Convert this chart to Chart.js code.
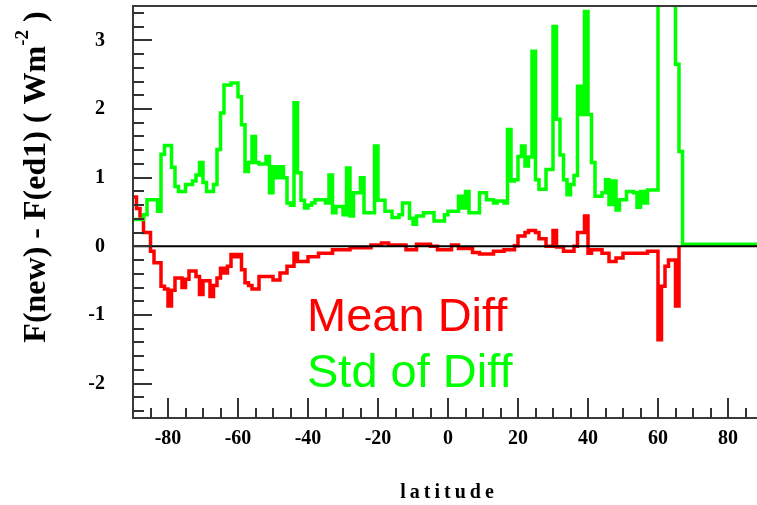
<!DOCTYPE html>
<html><head><meta charset="utf-8">
<script src="https://cdn.jsdelivr.net/npm/chart.js@4.4.1/dist/chart.umd.min.js"></script>
<style>html,body{margin:0;padding:0;overflow:hidden;background:#fff;width:757px;height:505px}canvas{display:block}</style>
</head><body>
<canvas id="c" width="765" height="505"></canvas>
<script>
// Latitude bin starts (1 degree bins), last entry closes the final bin
const latitude = Array.from({length: 181}, (_, i) => i - 90);

// Mean Diff (red)
const meanDiff = [
  0.72, 0.55, 0.44, 0.20, 0.20, -0.07, -0.24, -0.24, -0.58, -0.62,
  -0.87, -0.64, -0.46, -0.46, -0.60, -0.48, -0.36, -0.36, -0.44, -0.70,
  -0.50, -0.50, -0.73, -0.57, -0.46, -0.32, -0.39, -0.29, -0.12, -0.15,
  -0.12, -0.34, -0.53, -0.57, -0.62, -0.62, -0.44, -0.44, -0.44, -0.44,
  -0.49, -0.49, -0.39, -0.39, -0.29, -0.29, -0.10, -0.22, -0.22, -0.22,
  -0.15, -0.15, -0.15, -0.10, -0.10, -0.10, -0.10, -0.05, -0.05, -0.05,
  -0.05, -0.05, -0.02, -0.02, -0.02, -0.02, -0.02, -0.02, 0.02, 0.02,
  0.02, 0.05, 0.05, 0.02, 0.02, 0.02, 0.02, 0.02, -0.05, -0.05,
  -0.05, 0.03, 0.03, 0.03, 0.03, 0.00, 0.00, -0.05, -0.05, -0.05,
  -0.05, 0.02, 0.02, -0.03, -0.03, -0.03, -0.03, -0.09, -0.09, -0.11,
  -0.11, -0.11, -0.11, -0.07, -0.07, -0.07, -0.05, -0.05, -0.05, 0.01,
  0.15, 0.15, 0.20, 0.23, 0.23, 0.20, 0.11, 0.11, 0.00, 0.00,
  0.23, -0.01, -0.01, -0.07, -0.07, -0.07, 0.00, 0.20, 0.20, 0.44,
  -0.10, -0.05, -0.05, -0.05, -0.10, -0.10, -0.22, -0.22, -0.17, -0.17,
  -0.10, -0.10, -0.10, -0.10, -0.10, -0.10, -0.10, -0.07, -0.07, -0.07,
  -1.36, -0.58, -0.29, -0.20, -0.20, -0.87, 0.00, null, null, null,
  null, null, null, null, null, null, null, null, null, null,
  null, null, null, null, null, null, null, null, null, null,
  null
];

// Std of Diff (green)
const stdOfDiff = [
  0.39, 0.39, 0.39, 0.46, 0.68, 0.68, 0.68, 0.51, 1.34, 1.47,
  1.47, 1.15, 0.87, 0.80, 0.80, 0.90, 0.90, 0.95, 1.04, 1.22,
  0.93, 0.80, 0.80, 0.90, 1.41, 1.94, 2.35, 2.35, 2.38, 2.38,
  2.18, 1.77, 1.09, 1.22, 1.60, 1.22, 1.20, 1.20, 1.31, 0.78,
  1.16, 1.00, 1.16, 1.00, 0.63, 0.60, 2.09, 1.07, 0.67, 0.56,
  0.60, 0.63, 0.68, 0.68, 0.68, 0.63, 1.04, 0.49, 0.58, 0.58,
  0.46, 1.14, 0.44, 0.78, 0.78, 1.00, 0.49, 0.49, 0.49, 1.46,
  0.67, 0.67, 0.51, 0.51, 0.42, 0.42, 0.46, 0.63, 0.63, 0.41,
  0.32, 0.44, 0.44, 0.49, 0.49, 0.49, 0.37, 0.37, 0.37, 0.46,
  0.51, 0.51, 0.51, 0.73, 0.56, 0.80, 0.49, 0.49, 0.49, 0.78,
  0.78, 0.68, 0.68, 0.63, 0.66, 0.66, 0.63, 1.70, 0.95, 0.97,
  1.31, 1.46, 1.17, 1.30, 2.84, 0.97, 0.83, 0.83, 1.12, 1.12,
  3.20, 1.85, 1.33, 0.97, 0.75, 0.90, 1.03, 2.33, 1.92, 3.42,
  1.92, 1.22, 0.73, 0.73, 0.78, 0.97, 0.61, 0.95, 0.53, 0.68,
  0.68, 0.80, 0.80, 0.78, 0.57, 0.80, 0.63, 0.82, 0.82, 0.82,
  6.00, 6.00, 6.00, 6.00, 6.00, 2.65, 1.38, 0.03, 0.03, 0.03,
  0.03, 0.03, 0.03, 0.03, 0.03, 0.03, 0.03, 0.03, 0.03, 0.03,
  0.03, 0.03, 0.03, 0.03, 0.03, 0.03, 0.03, 0.03, 0.03, 0.03,
  0.03
];

const xTickLabels = [-80, -60, -40, -20, 0, 20, 40, 60, 80];
const yTickLabels = [-2, -1, 0, 1, 2, 3];
const seriesNames = ['Mean Diff', 'Std of Diff'];
const xTitle = 'latitude';
const yTitle = ['F(new) - F(ed1) ( Wm', '-2', ' )'];

const RED = '#ff0000', GREEN = '#00ff00';

const decor = {
  id: 'decor',
  afterDatasetsDraw(chart) {
    const {ctx, chartArea: a, scales: {x, y}} = chart;
    ctx.save();
    // zero line
    const y0 = y.getPixelForValue(0);
    ctx.strokeStyle = '#000'; ctx.lineWidth = 2;
    ctx.beginPath(); ctx.moveTo(a.left, y0); ctx.lineTo(a.right, y0); ctx.stroke();
    // frame
    ctx.strokeStyle = '#3a3a3a'; ctx.lineWidth = 2;
    ctx.strokeRect(a.left, a.top, a.right - a.left, a.bottom - a.top);
    // y ticks (inward)
    ctx.strokeStyle = '#333'; ctx.lineWidth = 2;
    for (let k = -12; k <= 17; k++) {
      const v = k * 0.2;
      const py = Math.round(y.getPixelForValue(v));
      const major = k % 5 === 0;
      ctx.beginPath(); ctx.moveTo(a.left, py); ctx.lineTo(a.left + (major ? 19 : 11), py); ctx.stroke();
    }
    // x ticks (inward)
    for (let k = -17; k <= 17; k++) {
      const v = k * 5;
      const px = Math.round(x.getPixelForValue(v));
      const major = k % 4 === 0;
      ctx.beginPath(); ctx.moveTo(px, a.bottom); ctx.lineTo(px, a.bottom - (major ? 20 : 10)); ctx.stroke();
    }
    ctx.restore();

    // legend texts
    ctx.save();
    ctx.font = '47px "Liberation Sans", Arial, sans-serif';
    ctx.textBaseline = 'alphabetic'; ctx.textAlign = 'left';
    ctx.fillStyle = RED; ctx.fillText(seriesNames[0], 307, 331);
    ctx.fillStyle = GREEN; ctx.fillText(seriesNames[1], 307, 387);
    ctx.restore();

    // x title
    ctx.save();
    ctx.font = 'bold 20px "Liberation Serif", "Times New Roman", serif';
    ctx.fillStyle = '#000';
    ctx.letterSpacing = '4px';
    ctx.textAlign = 'center'; ctx.textBaseline = 'middle';
    ctx.fillText(xTitle, 449, 493);
    ctx.restore();

    // y title
    ctx.save();
    ctx.translate(37, 177);
    ctx.rotate(-Math.PI / 2);
    ctx.fillStyle = '#000';
    ctx.textBaseline = 'middle'; ctx.textAlign = 'left';
    const bigF = 'bold 32px "Liberation Serif", "Times New Roman", serif';
    const smallF = 'bold 19px "Liberation Serif", "Times New Roman", serif';
    ctx.font = bigF; const w1 = ctx.measureText(yTitle[0]).width; const w3 = ctx.measureText(yTitle[2]).width;
    ctx.font = smallF; const w2 = ctx.measureText(yTitle[1]).width;
    const s = -(w1 + w2 + w3) / 2;
    ctx.font = bigF; ctx.fillText(yTitle[0], s, 0);
    ctx.font = smallF; ctx.fillText(yTitle[1], s + w1, -14);
    ctx.font = bigF; ctx.fillText(yTitle[2], s + w1 + w2, 0);
    ctx.restore();
  }
};

const tickFont = {family: '"Liberation Serif", "Times New Roman", serif', size: 20, weight: 'bold'};
const noPad = s => { s.paddingTop = 0; s.paddingBottom = 0; s.paddingLeft = 0; s.paddingRight = 0; };

new Chart(document.getElementById('c'), {
  type: 'line',
  data: {
    datasets: [
      {label: seriesNames[1], data: latitude.map((v, i) => ({x: v, y: stdOfDiff[i]})),
       borderColor: GREEN, borderWidth: 3.5, stepped: true, pointRadius: 0, fill: false, clip: 0, borderJoinStyle: 'miter'},
      {label: seriesNames[0], data: latitude.map((v, i) => ({x: v, y: meanDiff[i]})),
       borderColor: RED, borderWidth: 3.5, stepped: true, pointRadius: 0, fill: false, clip: 0, borderJoinStyle: 'miter'}
    ]
  },
  options: {
    responsive: false, animation: false, events: [],
    layout: {autoPadding: false, padding: {top: 6, right: 2, left: 0, bottom: 0}},
    plugins: {legend: {display: false}, tooltip: {enabled: false}},
    scales: {
      x: {
        type: 'linear', min: -90, max: 90,
        grid: {display: false, drawTicks: false}, border: {display: false},
        afterBuildTicks: s => { s.ticks = xTickLabels.map(v => ({value: v})); },
        afterFit: s => { s.height = 87; noPad(s); },
        ticks: {font: tickFont, color: '#000', padding: 9, maxRotation: 0, autoSkip: false}
      },
      y: {
        type: 'linear', min: -2.5, max: 3.5,
        grid: {display: false, drawTicks: false}, border: {display: false},
        afterBuildTicks: s => { s.ticks = yTickLabels.map(v => ({value: v})); },
        afterFit: s => { s.width = 133; noPad(s); },
        ticks: {font: tickFont, color: '#000', padding: 28}
      }
    }
  },
  plugins: [decor]
});
</script>
</body></html>
